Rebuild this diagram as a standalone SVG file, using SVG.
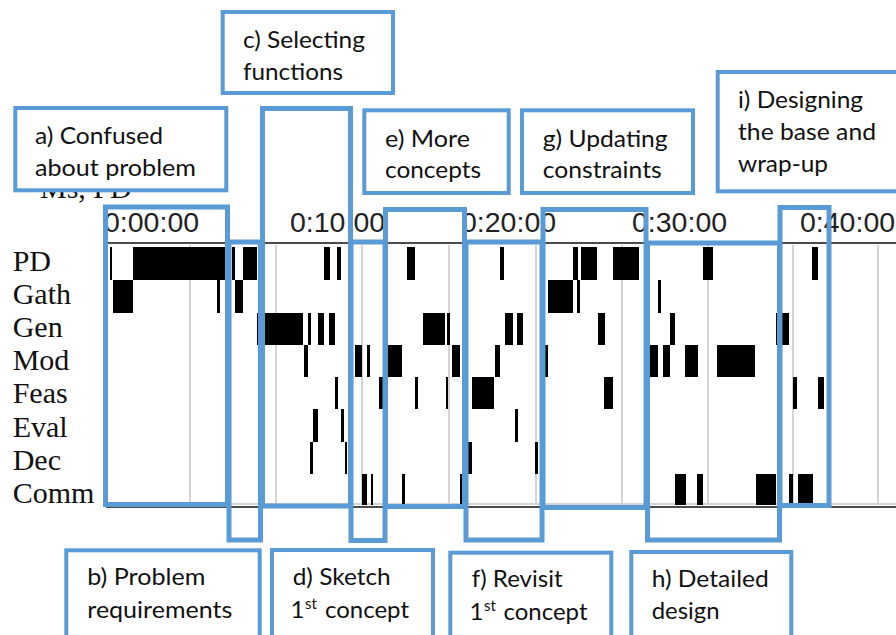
<svg xmlns="http://www.w3.org/2000/svg" width="896" height="635" viewBox="0 0 896 635">
  <style>
    .rowlbl { font-family: "Liberation Serif", "Times New Roman", serif; font-size: 30px; fill: #111; }
    .tick { font-family: "Liberation Sans", Arial, sans-serif; font-size: 28.5px; fill: #222; }
    .grid { stroke: #d4d4d4; stroke-width: 2; }
    .axis { stroke: #111; stroke-width: 1.5; }
    .bar { fill: #000; }
    .region { fill: none; stroke: #5B9BD5; stroke-width: 5; }
    .callout { fill: #fff; stroke: #5B9BD5; stroke-width: 4; }
    .note { font-family: Lato, "Open Sans", "Noto Sans", sans-serif; font-size: 24px; fill: #111; }
    .sup { font-size: 15px; }
  </style>

  <!-- activity timeline chart -->
  <g id="chart">
    <text class="rowlbl" x="40" y="198">Ms, PD</text>

    <!-- time axis -->
    <text class="tick" x="104" y="232">0:00:00</text>
    <text class="tick" x="290" y="232">0:10:00</text>
    <text class="tick" x="461" y="232">0:20:00</text>
    <text class="tick" x="632" y="232">0:30:00</text>
    <text class="tick" x="800" y="232">0:40:00</text>

    <!-- 5 minute grid -->
    <g class="grid">
      <line x1="190" y1="245" x2="190" y2="505"/>
      <line x1="276" y1="245" x2="276" y2="505"/>
      <line x1="362" y1="245" x2="362" y2="505"/>
      <line x1="449" y1="245" x2="449" y2="505"/>
      <line x1="536" y1="245" x2="536" y2="505"/>
      <line x1="622" y1="245" x2="622" y2="505"/>
      <line x1="708" y1="245" x2="708" y2="505"/>
      <line x1="793" y1="245" x2="793" y2="505"/>
      <line x1="878" y1="245" x2="878" y2="505"/>
      <line x1="106" y1="504" x2="896" y2="504"/>
    </g>
    <line class="axis" x1="106" y1="243" x2="896" y2="243"/>
    <line class="axis" x1="106" y1="507" x2="896" y2="507"/>

    <!-- row names -->
    <text class="rowlbl" x="12.7" y="270.5">PD</text>
    <text class="rowlbl" x="12.7" y="303.5">Gath</text>
    <text class="rowlbl" x="12.7" y="336.7">Gen</text>
    <text class="rowlbl" x="12.7" y="370">Mod</text>
    <text class="rowlbl" x="12.7" y="403.3">Feas</text>
    <text class="rowlbl" x="12.7" y="436.7">Eval</text>
    <text class="rowlbl" x="12.7" y="470">Dec</text>
    <text class="rowlbl" x="12.7" y="503">Comm</text>

    <!-- PD -->
    <g class="bar">
      <rect x="110" y="247" width="2" height="33"/>
      <rect x="133" y="247" width="93" height="33"/>
      <rect x="232" y="247" width="3" height="33"/>
      <rect x="243" y="247" width="14" height="33"/>
      <rect x="324" y="247" width="6" height="33"/>
      <rect x="337" y="247" width="4" height="33"/>
      <rect x="407" y="247" width="8" height="33"/>
      <rect x="500" y="247" width="4" height="33"/>
      <rect x="573" y="247" width="5" height="33"/>
      <rect x="581" y="247" width="16" height="33"/>
      <rect x="613" y="247" width="26" height="33"/>
      <rect x="703" y="247" width="10" height="33"/>
      <rect x="812" y="247" width="6" height="33"/>
    </g>
    <!-- Gath -->
    <g class="bar">
      <rect x="113" y="280" width="20" height="33"/>
      <rect x="217" y="280" width="3" height="33"/>
      <rect x="235" y="280" width="8" height="33"/>
      <rect x="548" y="280" width="25" height="33"/>
      <rect x="577" y="280" width="3" height="33"/>
      <rect x="658" y="280" width="3" height="33"/>
    </g>
    <!-- Gen -->
    <g class="bar">
      <rect x="257" y="313" width="46" height="32"/>
      <rect x="308" y="313" width="3" height="32"/>
      <rect x="318" y="313" width="6" height="32"/>
      <rect x="329" y="313" width="6" height="32"/>
      <rect x="423" y="313" width="22" height="32"/>
      <rect x="447" y="313" width="3" height="32"/>
      <rect x="505" y="313" width="8" height="32"/>
      <rect x="517" y="313" width="6" height="32"/>
      <rect x="598" y="313" width="7" height="32"/>
      <rect x="670" y="313" width="5" height="32"/>
      <rect x="776" y="313" width="13" height="32"/>
    </g>
    <!-- Mod -->
    <g class="bar">
      <rect x="304" y="345" width="4" height="32"/>
      <rect x="355" y="345" width="7" height="32"/>
      <rect x="367" y="345" width="3" height="32"/>
      <rect x="386" y="345" width="16" height="32"/>
      <rect x="452" y="345" width="8" height="32"/>
      <rect x="495" y="345" width="5" height="32"/>
      <rect x="545" y="345" width="3" height="32"/>
      <rect x="650" y="345" width="8" height="32"/>
      <rect x="663" y="345" width="7" height="32"/>
      <rect x="685" y="345" width="13" height="32"/>
      <rect x="717" y="345" width="38" height="32"/>
    </g>
    <!-- Feas -->
    <g class="bar">
      <rect x="335" y="377" width="3" height="32"/>
      <rect x="379" y="377" width="4" height="32"/>
      <rect x="415" y="377" width="3" height="32"/>
      <rect x="446" y="377" width="2" height="32"/>
      <rect x="472" y="377" width="22" height="32"/>
      <rect x="604" y="377" width="9" height="32"/>
      <rect x="793" y="377" width="4" height="32"/>
      <rect x="818" y="377" width="6" height="32"/>
    </g>
    <!-- Eval -->
    <g class="bar">
      <rect x="313" y="409" width="5" height="33"/>
      <rect x="341" y="409" width="3" height="33"/>
      <rect x="515" y="409" width="3" height="33"/>
    </g>
    <!-- Dec -->
    <g class="bar">
      <rect x="310" y="442" width="3" height="32"/>
      <rect x="345" y="442" width="2" height="32"/>
      <rect x="468" y="442" width="4" height="32"/>
      <rect x="535" y="442" width="3" height="32"/>
    </g>
    <!-- Comm -->
    <g class="bar">
      <rect x="362" y="474" width="5" height="31"/>
      <rect x="371" y="474" width="2" height="31"/>
      <rect x="402" y="474" width="3" height="31"/>
      <rect x="460" y="474" width="3" height="31"/>
      <rect x="675" y="474" width="11" height="31"/>
      <rect x="697" y="474" width="6" height="31"/>
      <rect x="756" y="474" width="20" height="31"/>
      <rect x="789" y="474" width="4" height="31"/>
      <rect x="798" y="474" width="15" height="31"/>
    </g>
  </g>

  <!-- phase regions over the timeline -->
  <g id="regions">
    <rect id="region-a" class="region" x="105.5" y="207" width="122" height="297.5"/>
    <rect id="region-b" class="region" x="229" y="242" width="31.5" height="298"/>
    <rect id="region-c" class="region" x="262.5" y="108.5" width="88" height="397.5"/>
    <rect id="region-d" class="region" x="351" y="242" width="34" height="298.5"/>
    <rect id="region-e" class="region" x="385.5" y="209.5" width="79" height="297"/>
    <rect id="region-f" class="region" x="466" y="242" width="76" height="298"/>
    <rect id="region-g" class="region" x="543" y="209.5" width="103" height="298"/>
    <rect id="region-h" class="region" x="647.5" y="243" width="132" height="297"/>
    <rect id="region-i" class="region" x="780" y="207.5" width="49" height="298"/>
  </g>

  <!-- phase captions -->
  <g id="note-a">
    <rect class="callout" x="15.3" y="108" width="211" height="82.3"/>
    <text class="note" x="35" y="144" textLength="128" lengthAdjust="spacingAndGlyphs">a) Confused</text>
    <text class="note" x="35" y="176" textLength="161" lengthAdjust="spacingAndGlyphs">about problem</text>
  </g>
  <g id="note-c">
    <rect class="callout" x="222.7" y="12" width="170.3" height="81"/>
    <text class="note" x="243" y="48.3" textLength="122" lengthAdjust="spacingAndGlyphs">c) Selecting</text>
    <text class="note" x="243" y="80" textLength="100" lengthAdjust="spacingAndGlyphs">functions</text>
  </g>
  <g id="note-e">
    <rect class="callout" x="364.3" y="110.3" width="144.4" height="82.7"/>
    <text class="note" x="385" y="146.7" textLength="85" lengthAdjust="spacingAndGlyphs">e) More</text>
    <text class="note" x="385" y="178" textLength="96" lengthAdjust="spacingAndGlyphs">concepts</text>
  </g>
  <g id="note-g">
    <rect class="callout" x="522" y="110.3" width="171" height="82.7"/>
    <text class="note" x="542.7" y="146.7" textLength="125" lengthAdjust="spacingAndGlyphs">g) Updating</text>
    <text class="note" x="542.7" y="178" textLength="119" lengthAdjust="spacingAndGlyphs">constraints</text>
  </g>
  <g id="note-i">
    <rect class="callout" x="717.7" y="72" width="200" height="119.3"/>
    <text class="note" x="738" y="108" textLength="125" lengthAdjust="spacingAndGlyphs">i) Designing</text>
    <text class="note" x="738" y="140" textLength="138" lengthAdjust="spacingAndGlyphs">the base and</text>
    <text class="note" x="738" y="171.7" textLength="90" lengthAdjust="spacingAndGlyphs">wrap-up</text>
  </g>
  <g id="note-b">
    <rect class="callout" x="66.3" y="550.3" width="193.4" height="100"/>
    <text class="note" x="87.3" y="585" textLength="118" lengthAdjust="spacingAndGlyphs">b) Problem</text>
    <text class="note" x="87.3" y="618.3" textLength="145" lengthAdjust="spacingAndGlyphs">requirements</text>
  </g>
  <g id="note-d">
    <rect class="callout" x="272" y="550" width="161" height="100"/>
    <text class="note" x="292.7" y="585" textLength="98" lengthAdjust="spacingAndGlyphs">d) Sketch</text>
    <text class="note" x="290.5" y="618">1</text>
    <text class="note sup" x="305" y="609">st</text>
    <text class="note" x="325" y="618" textLength="84" lengthAdjust="spacingAndGlyphs">concept</text>
  </g>
  <g id="note-f">
    <rect class="callout" x="450.3" y="552.7" width="161" height="100"/>
    <text class="note" x="471.7" y="586.7" textLength="91" lengthAdjust="spacingAndGlyphs">f) Revisit</text>
    <text class="note" x="469.5" y="620">1</text>
    <text class="note sup" x="484" y="611">st</text>
    <text class="note" x="503.5" y="620" textLength="84" lengthAdjust="spacingAndGlyphs">concept</text>
  </g>
  <g id="note-h">
    <rect class="callout" x="631.3" y="552" width="160" height="100"/>
    <text class="note" x="651.7" y="587" textLength="117" lengthAdjust="spacingAndGlyphs">h) Detailed</text>
    <text class="note" x="651.7" y="619" textLength="68" lengthAdjust="spacingAndGlyphs">design</text>
  </g>
</svg>
